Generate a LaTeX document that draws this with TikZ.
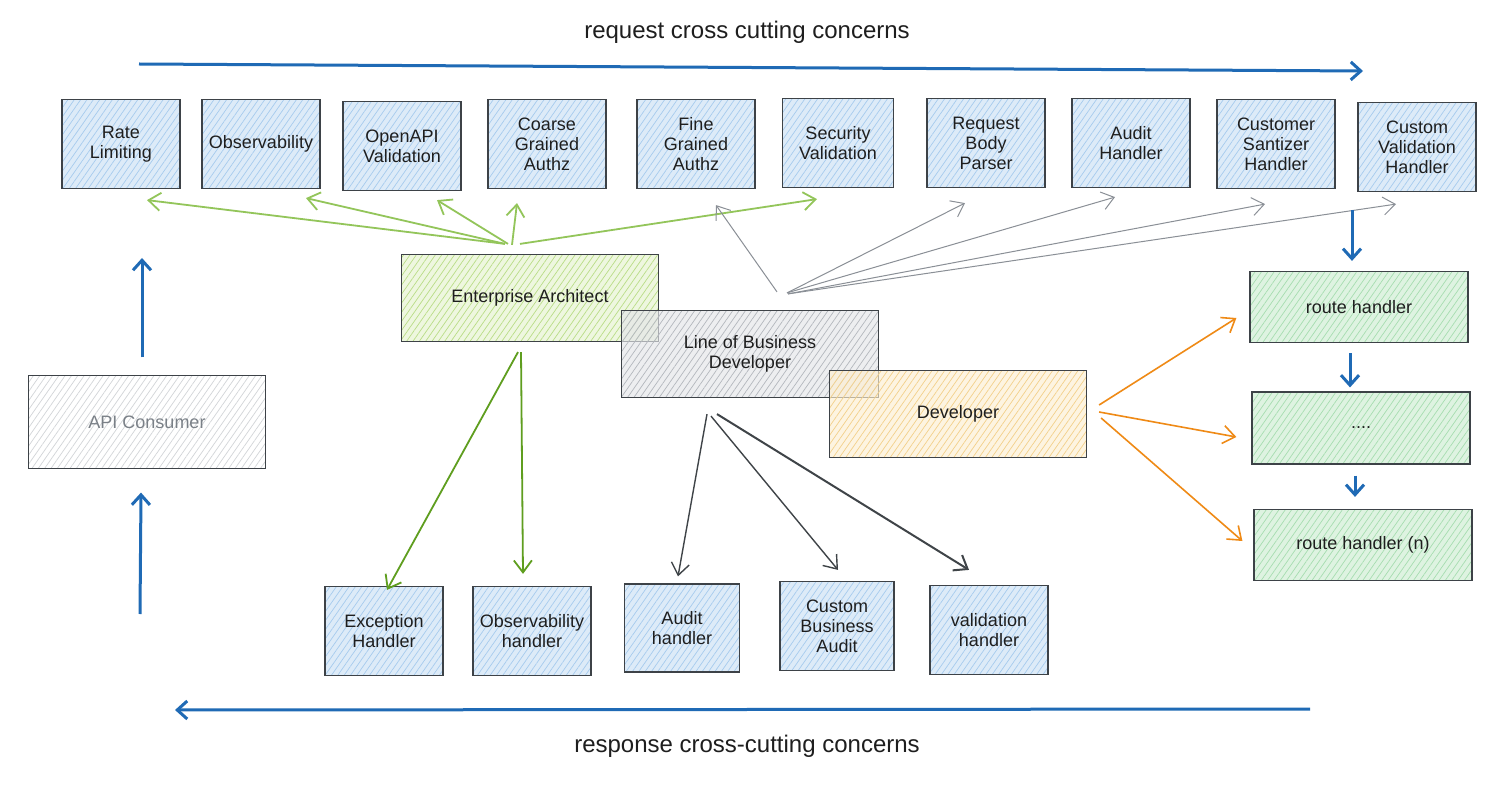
\documentclass[tikz,border=0pt]{standalone}
\usepackage{fontspec}
\setmainfont{Liberation Sans}
\usetikzlibrary{arrows.meta,patterns.meta}
\definecolor{bluefill}{HTML}{DDEBF8}
\definecolor{bluehatch}{HTML}{A6CBEE}
\definecolor{eafill}{HTML}{E5F3CE}
\definecolor{eahatch}{HTML}{B9DD86}
\definecolor{lobfill}{HTML}{E4E6E9}
\definecolor{lobhatch}{HTML}{B3B7BD}
\definecolor{devfill}{HTML}{FDEFD2}
\definecolor{devhatch}{HTML}{F3D08A}
\definecolor{rhfill}{HTML}{DEF3E1}
\definecolor{rhhatch}{HTML}{A6DDB0}
\definecolor{apihatch}{HTML}{D2D5D8}
\definecolor{boxline}{HTML}{3D4247}
\definecolor{ink}{HTML}{1E1E1E}
\definecolor{apiink}{HTML}{7A8087}
\definecolor{arrblue}{HTML}{1F6AB5}
\definecolor{grnlight}{HTML}{93C55A}
\definecolor{grndark}{HTML}{5F9E1F}
\definecolor{graylight}{HTML}{8A8F96}
\definecolor{graydark}{HTML}{3F4448}
\definecolor{orng}{HTML}{EF8A16}
\newcommand{\boxfont}{\fontsize{9}{10}\selectfont}
\newcommand{\titlefont}{\fontsize{12}{14}\selectfont}
\tikzset{
  base/.style={draw=boxline, line width=0.6pt, align=center, text=ink, font=\boxfont, inner sep=1pt},
  hatch/.style={postaction={pattern={Lines[angle=55,distance=2.6pt,line width=0.35pt]}, pattern color=#1},
                postaction={draw=boxline, line width=0.6pt, draw opacity=1}},
  topbox/.style={base, fill=bluefill, hatch=bluehatch, minimum width=59pt, minimum height=44.5pt},
  botbox/.style={base, fill=bluefill, hatch=bluehatch, minimum width=59pt, minimum height=44.5pt},
  rolebox/.style={base, minimum width=128.5pt, minimum height=43.5pt, fill opacity=0.65, text opacity=1},
  rhbox/.style={base, fill=rhfill, hatch=rhhatch, minimum width=109pt, minimum height=35.5pt},
  flow/.style={draw=arrblue, line width=1.5pt, -{Straight Barb[length=5pt,width=9pt,line width=1.5pt]}},
  grnarr/.style={draw=grnlight, line width=0.9pt, -{Straight Barb[length=6pt,width=9pt]}},
  grnarrd/.style={draw=grndark, line width=0.9pt, -{Straight Barb[length=6pt,width=9pt]}},
  grayarr/.style={draw=graylight, line width=0.5pt, -{Straight Barb[length=6pt,width=9pt]}},
  darkarr/.style={draw=graydark, line width=0.7pt, -{Straight Barb[length=6pt,width=9pt]}},
  orarr/.style={draw=orng, line width=0.8pt, -{Straight Barb[length=6pt,width=9pt]}},
  title/.style={font=\titlefont, text=ink}
}
\begin{document}
\begin{tikzpicture}[x=0.5pt,y=-0.5pt]
\useasboundingbox (0,0) rectangle (1505,786);
\fill[white] (0,0) rectangle (1505,786);

% titles
\node[title] (reqt) at (747,32) {request cross cutting concerns};
\node[title] (rest) at (747,746) {response cross-cutting concerns};
\coordinate (ta1) at (139,64);
\coordinate (ta2) at (1363,71);
\draw[flow] (ta1) -- (ta2);
\coordinate (ba1) at (1310,709);
\coordinate (ba2) at (175,710);
\draw[flow] (ba1) -- (ba2);

% top row
\node[topbox] (rl) at (121,144) {Rate\\Limiting};
\node[topbox] (obs) at (261,144) {Observability};
\node[topbox] (oapi) at (402,146) {OpenAPI\\Validation};
\node[topbox] (cga) at (547,144) {Coarse\\Grained\\Authz};
\node[topbox] (fga) at (696,144) {Fine\\Grained\\Authz};
\node[topbox, minimum width=55.5pt] (sec) at (838,143) {Security\\Validation};
\node[topbox] (rbp) at (986,143) {Request\\Body\\Parser};
\node[topbox] (aud) at (1131,143) {Audit\\Handler};
\node[topbox] (cust) at (1276,144) {Customer\\Santizer\\Handler};
\node[topbox] (cvh) at (1417,147) {Custom\\Validation\\Handler};

% api consumer
\node[base, minimum width=118.5pt, minimum height=46.5pt, fill=white, hatch=apihatch, text=apiink] (api) at (147,422) {API Consumer};

% roles
\node[rolebox, fill=eafill, hatch=eahatch] (ea) at (530,298) {Enterprise Architect};
\node[rolebox, fill=lobfill, hatch=lobhatch] (lob) at (750,354) {Line of Business\\Developer};
\node[rolebox, fill=devfill, hatch=devhatch] (dev) at (958,414) {Developer};

% route handlers
\node[rhbox] (rh1) at (1359,307) {route handler};
\node[rhbox, minimum height=36pt] (rh2) at (1361,428) {....};
\node[rhbox] (rh3) at (1363,545) {route handler (n)};

% bottom row
\node[botbox] (exc) at (384,631) {Exception\\Handler};
\node[botbox] (obh) at (532,631) {Observability\\handler};
\node[botbox, minimum width=57.5pt, minimum height=44pt] (audh) at (682,628) {Audit\\handler};
\node[botbox, minimum width=57pt] (cba) at (837,626) {Custom\\Business\\Audit};
\node[botbox] (vh) at (989,630) {validation\\handler};

% green arrows from enterprise architect (up)
\draw[grnarr] ([shift={(-25,-10)}]ea.north) -- ([shift={(26,11)}]rl.south);
\draw[grnarr] ([shift={(-25,-10)}]ea.north) -- ([shift={(45,9)}]obs.south);
\draw[grnarr] ([shift={(-22,-10)}]ea.north) -- ([shift={(35,9)}]oapi.south);
\draw[grnarr] ([shift={(-18,-9)}]ea.north) -- ([shift={(-30,14)}]cga.south);
\draw[grnarr] ([shift={(-10,-10)}]ea.north) -- ([shift={(-21,11)}]sec.south);

% gray arrows from line of business developer (up)
\draw[grayarr] ([shift={(27,-18)}]lob.north) -- ([shift={(20,16)}]fga.south);
\draw[grayarr] ([shift={(37,-17)}]lob.north) -- ([shift={(-21,15)}]rbp.south);
\draw[grayarr] ([shift={(37,-17)}]lob.north) -- ([shift={(-16,9)}]aud.south);
\draw[grayarr] ([shift={(38,-16)}]lob.north) -- ([shift={(-11,15)}]cust.south);
\draw[grayarr] ([shift={(38,-16)}]lob.north) -- ([shift={(-21,12)}]cvh.south);

% green arrows down
\draw[grnarrd] ([shift={(-12,10)}]ea.south) -- ([shift={(3,4)}]exc.north);
\draw[grnarrd] ([shift={(-9,10)}]ea.south) -- ([shift={(-9,-12)}]obh.north);

% dark arrows down
\draw[darkarr] ([shift={(-43,16)}]lob.south) -- ([shift={(-4,-7)}]audh.north);
\draw[darkarr] ([shift={(-39,18)}]lob.south) -- ([shift={(1,-11)}]cba.north);
\draw[darkarr, line width=1pt] ([shift={(-33,16)}]lob.south) -- ([shift={(-20,-15)}]vh.north);

% orange arrows
\draw[orarr] ([shift={(12,-9)}]dev.east) -- ([shift={(-13,11)}]rh1.west);
\draw[orarr] ([shift={(12,-2)}]dev.east) -- ([shift={(-15,9)}]rh2.west);
\draw[orarr] ([shift={(14,4)}]dev.east) -- ([shift={(-11,-4)}]rh3.west);

% blue flow arrows on the right
\draw[flow] ([shift={(-65,18)}]cvh.south) -- ([shift={(-7,-10)}]rh1.north);
\draw[flow] ([shift={(-9,10)}]rh1.south) -- ([shift={(-11,-4)}]rh2.north);
\draw[flow] ([shift={(-6,11)}]rh2.south) -- ([shift={(-8,-12)}]rh3.north);

% api consumer arrows
\coordinate (apitop) at (142,258);
\coordinate (apibot) at (140,614);
\draw[flow] ([shift={(-5,-17.5)}]api.north) -- (apitop);
\draw[flow] (apibot) -- ([shift={(-6,23.5)}]api.south);
\end{tikzpicture}
\end{document}
